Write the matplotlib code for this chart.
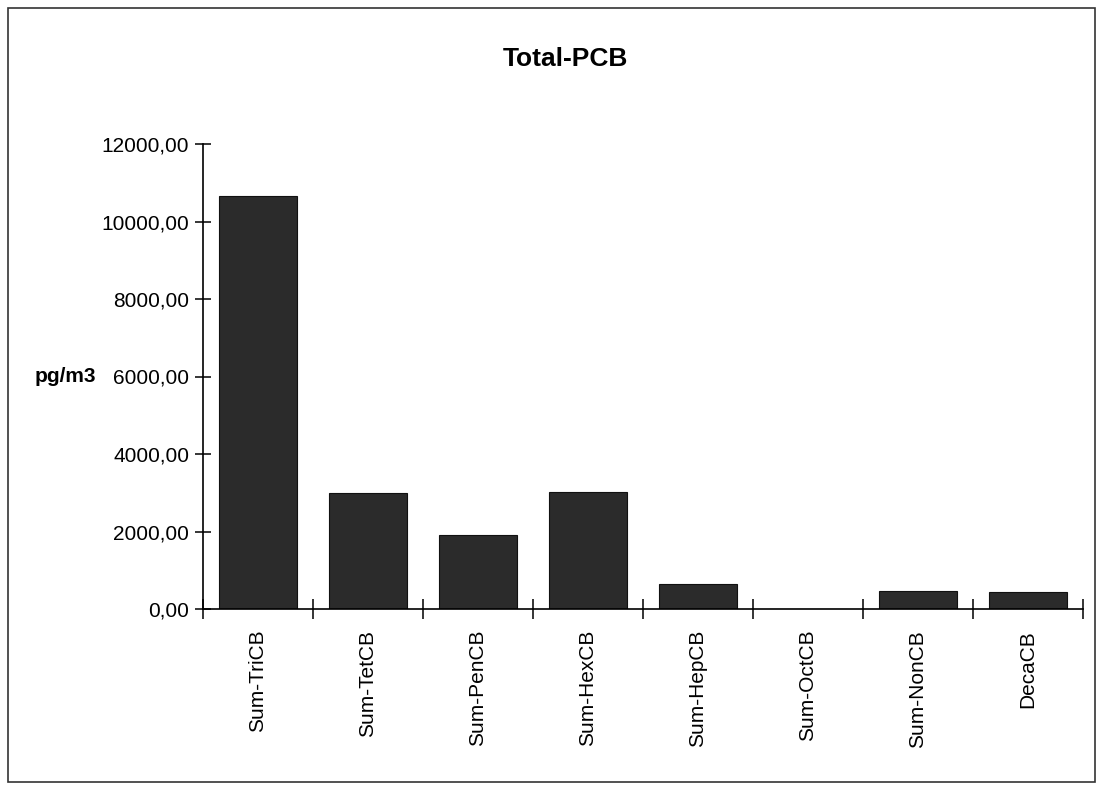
import matplotlib
matplotlib.use("Agg")
import matplotlib.pyplot as plt
from matplotlib.patches import Rectangle
from matplotlib.ticker import FixedLocator, FuncFormatter

categories = ["Sum-TriCB", "Sum-TetCB", "Sum-PenCB", "Sum-HexCB",
              "Sum-HepCB", "Sum-OctCB", "Sum-NonCB", "DecaCB"]
values = [10650, 3000, 1910, 3020, 650, 0, 460, 440]
yticks = [0, 2000, 4000, 6000, 8000, 10000, 12000]

plt.rcParams['font.family'] = ['Liberation Sans', 'DejaVu Sans']

fig = plt.figure(figsize=(11.05, 7.91), dpi=100)
fig.patches.append(Rectangle((8/1105, 1-782/791), (1095-8)/1105, (782-8)/791,
                             transform=fig.transFigure, fill=False,
                             edgecolor='#333333', linewidth=1.2))

ax = fig.add_axes([203/1105, 1-609/791, (1083-203)/1105, (609-144)/791])
x = list(range(len(categories)))
ax.bar(x, values, width=0.71, color='#2b2b2b', edgecolor='#111111', linewidth=0.8)

ax.set_xlim(-0.5, len(categories) - 0.5)
ax.set_ylim(0, 12000)
for s in ['top', 'right']:
    ax.spines[s].set_visible(False)
ax.spines['left'].set_linewidth(1.2)
ax.spines['bottom'].set_linewidth(1.2)

ax.yaxis.set_major_locator(FixedLocator(yticks))
ax.yaxis.set_major_formatter(FuncFormatter(lambda v, p: f"{v:.2f}".replace('.', ',')))
ax.tick_params(axis='y', direction='inout', length=12, width=1.1, labelsize=15, pad=4)

ax.set_xticks([i - 0.5 for i in range(len(categories) + 1)])
ax.set_xticklabels([])
ax.set_xticks(x, minor=True)
ax.set_xticklabels(categories, minor=True, rotation=90, fontsize=15, va='top')
ax.tick_params(axis='x', which='major', direction='inout', length=14, width=1.1)
ax.tick_params(axis='x', which='minor', length=0, pad=15)

fig.text(565/1105, 1-59/791, "Total-PCB", ha='center', va='center',
         fontsize=19, fontweight='bold')
fig.text(35/1105, 1-377/791, "pg/m3", ha='left', va='center',
         fontsize=15, fontweight='bold')

fig.savefig("out.png", dpi=100)
